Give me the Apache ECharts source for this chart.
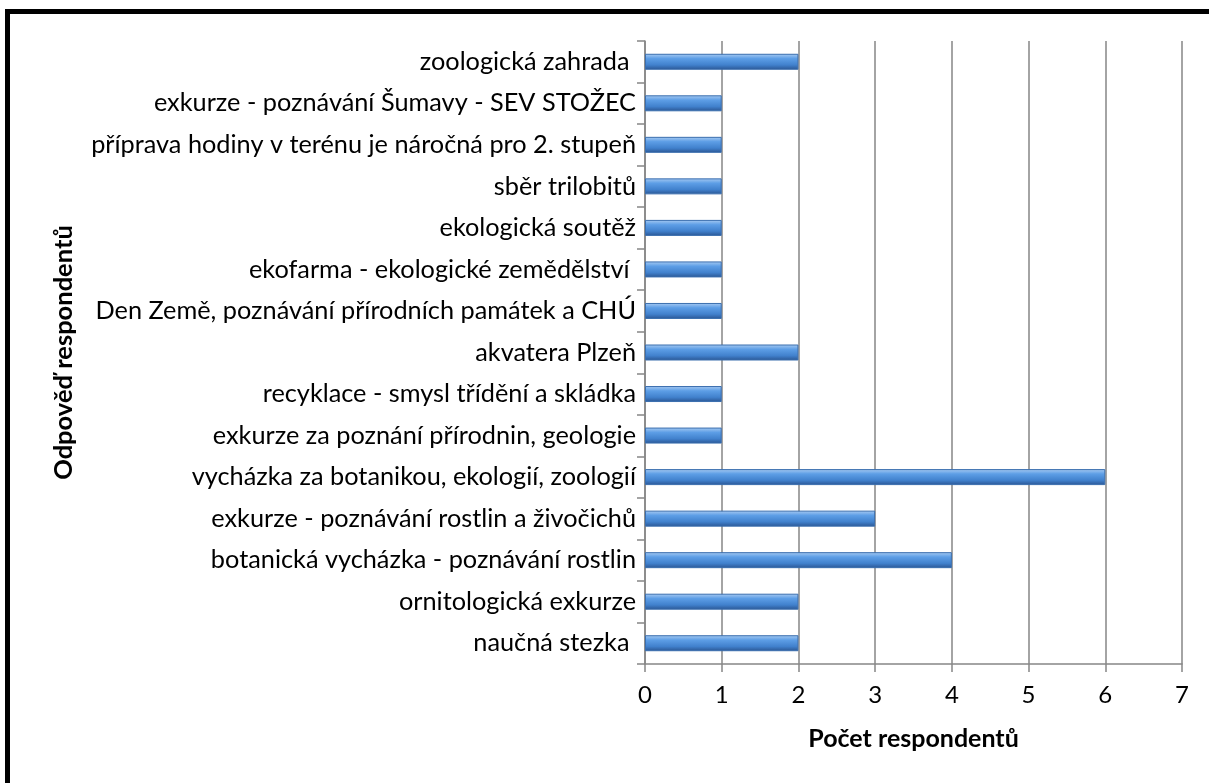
<!DOCTYPE html>
<html>
<head>
<meta charset="utf-8">
<script src="https://cdn.jsdelivr.net/npm/echarts@6/dist/echarts.min.js"></script>
<style>
  html, body { margin: 0; padding: 0; background: #fff; }
  #chart { width: 1209px; height: 783px; }
</style>
</head>
<body>
<div id="chart"></div>
<script>
// kategorie zdola nahoru (jak je kreslí osa)
var categories = [
  'naučná stezka ',
  'ornitologická exkurze',
  'botanická vycházka - poznávání rostlin',
  'exkurze - poznávání rostlin a živočichů',
  'vycházka za botanikou, ekologií, zoologií',
  'exkurze za poznání přírodnin, geologie',
  'recyklace - smysl třídění a skládka',
  'akvatera Plzeň',
  'Den Země, poznávání přírodních památek a CHÚ',
  'ekofarma - ekologické zemědělství ',
  'ekologická soutěž',
  'sběr trilobitů',
  'příprava hodiny v terénu je náročná pro 2. stupeň',
  'exkurze - poznávání Šumavy - SEV STOŽEC',
  'zoologická zahrada '
]
var counts = [2, 2, 4, 3, 6, 1, 1, 2, 1, 1, 1, 1, 1, 1, 2]
var xTicks = [0, 1, 2, 3, 4, 5, 6, 7]

var font = 'Lato, "Open Sans", sans-serif'
var myChart = echarts.init(document.getElementById('chart'))

var options = {
  animation: false,
  backgroundColor: '#fff',
  graphic: [{
    type: 'rect',
    shape: { x: 7.5, y: 11.5, width: 1300, height: 900 },
    style: { fill: 'none', stroke: '#000', lineWidth: 5 },
    silent: true
  }],
  grid: {
    left: 645,
    right: 27,
    top: 41,
    bottom: 119
  },
  xAxis: {
    type: 'value',
    min: xTicks[0],
    max: xTicks[xTicks.length - 1],
    interval: 1,
    name: 'Počet respondentů',
    nameLocation: 'middle',
    nameGap: 62,
    nameTextStyle: { fontFamily: font, fontSize: 25, fontWeight: 'bold', color: '#000' },
    axisLine: { show: true, lineStyle: { color: '#868686', width: 1.5 } },
    axisTick: { show: true, length: 8, lineStyle: { color: '#868686', width: 1.5 } },
    axisLabel: { fontFamily: font, fontSize: 24, color: '#000', margin: 19 },
    splitLine: { show: true, lineStyle: { color: '#868686', width: 1.5 } }
  },
  yAxis: {
    type: 'category',
    data: categories,
    name: 'Odpověď respondentů',
    nameLocation: 'middle',
    nameGap: 568,
    nameRotate: 90,
    nameTextStyle: { fontFamily: font, fontSize: 25.5, fontWeight: 'bold', color: '#000' },
    axisLine: { show: true, lineStyle: { color: '#868686', width: 1.5 } },
    axisTick: { show: true, length: 8, lineStyle: { color: '#868686', width: 1.5 } },
    axisLabel: { fontFamily: font, fontSize: 25.3, color: '#000', margin: 9 },
    splitLine: { show: false }
  },
  series: [{
    type: 'bar',
    data: counts,
    barWidth: 16,
    itemStyle: {
      color: new echarts.graphic.LinearGradient(0, 0, 0, 1, [
        { offset: 0, color: '#a9cbf2' },
        { offset: 0.3, color: '#5d9ee6' },
        { offset: 0.7, color: '#4181cd' },
        { offset: 1, color: '#2a5592' }
      ]),
      borderColor: '#3a6eae',
      borderWidth: 1
    }
  }]
}

myChart.setOption(options)
</script>
</body>
</html>
